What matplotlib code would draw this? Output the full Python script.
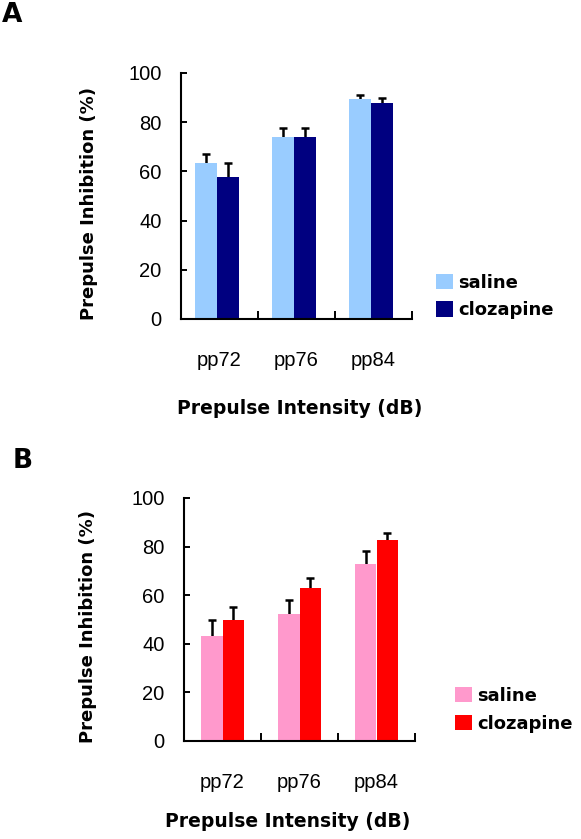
import matplotlib
matplotlib.use('Agg')
import matplotlib.pyplot as plt
import numpy as np

# values
groups = ['pp72', 'pp76', 'pp84']
series_names = ['saline', 'clozapine']

a_saline = [63.6, 73.8, 89.5]
a_saline_err = [3.5, 3.7, 1.5]
a_cloz = [57.6, 73.8, 88.0]
a_cloz_err = [5.8, 3.7, 2.0]

b_saline = [43.1, 52.2, 72.7]
b_saline_err = [6.6, 6.0, 5.3]
b_cloz = [50.0, 62.8, 82.6]
b_cloz_err = [5.0, 4.4, 2.9]

y_ticks = [0, 20, 40, 60, 80, 100]

W, H = 581, 839
fig = plt.figure(figsize=(W / 100, H / 100), dpi=100)

tick_font = {'family': 'Liberation Sans', 'size': 14.5}
heavy = {'family': 'DejaVu Sans', 'weight': 'bold'}


def px_axes(l, r, t, b):
    return fig.add_axes([l / W, 1 - b / H, (r - l) / W, (b - t) / H])


def panel(ax, sal, sal_err, clo, clo_err, colors, shift, ylab_x, xlab_xy):
    x = np.arange(len(groups)) + 0.5 + shift
    w = 0.285
    bars = []
    for vals, errs, off, col, name in [(sal, sal_err, -w / 2, colors[0], series_names[0]),
                                       (clo, clo_err, w / 2, colors[1], series_names[1])]:
        # symmetric bars drawn under the bar, so only the upper half shows
        ax.errorbar(x + off, vals, yerr=errs, fmt='none',
                    ecolor='black', elinewidth=1.8, capsize=3, capthick=1.8, zorder=1)
        b = ax.bar(x + off, vals, w, color=col, edgecolor='none', label=name, zorder=2)
        bars.append(b)
    ax.set_xlim(0, len(groups))
    ax.set_ylim(0, 100)
    ax.set_yticks(y_ticks)
    ax.set_yticklabels([str(v) for v in y_ticks], fontdict=tick_font)
    ax.set_xticks([1, 2, 3])
    ax.set_xticklabels([])
    ax.set_xticks(np.arange(len(groups)) + 0.5, minor=True)
    ax.set_xticklabels(groups, minor=True, fontdict=tick_font)
    ax.tick_params(axis='x', which='major', direction='in', length=6, width=1.4)
    ax.tick_params(axis='x', which='minor', length=0, pad=23)
    ax.tick_params(axis='y', direction='in', length=4, width=1.4, pad=14)
    for s in ['top', 'right']:
        ax.spines[s].set_visible(False)
    for s in ['left', 'bottom']:
        ax.spines[s].set_linewidth(1.5)
    ax.set_ylabel('Prepulse Inhibition (%)', fontsize=13, **heavy)
    ax.yaxis.set_label_coords(ylab_x, 0.47)
    ax.set_xlabel('Prepulse Intensity (dB)', fontsize=13.5, **heavy)
    ax.xaxis.set_label_coords(*xlab_xy)
    ax.xaxis.label.set_va('center')
    return bars


ax_a = px_axes(181, 412, 73, 319)
bars_a = panel(ax_a, a_saline, a_saline_err, a_cloz, a_cloz_err,
               ['#99CCFF', '#000080'], -0.03, -0.36, (0.515, -0.362))
ax_b = px_axes(184, 415, 498, 741)
bars_b = panel(ax_b, b_saline, b_saline_err, b_cloz, b_cloz_err,
               ['#FF99CC', '#FF0000'], 0.0, -0.375, (0.45, -0.33))

for bars, (lx, ly) in [(bars_a, (436, 296.5)), (bars_b, (455, 709.8))]:
    fig.legend(bars, series_names, loc='center left',
               bbox_to_anchor=(lx / W, 1 - ly / H), frameon=False,
               borderpad=0, borderaxespad=0, handlelength=0.95, handleheight=0.95,
               handletextpad=0.3, labelspacing=0.55,
               prop={'family': 'DejaVu Sans', 'weight': 'bold', 'size': 13})

fig.text(2 / W, 1 - 15 / H, 'A', fontsize=19, va='center', ha='left', **heavy)
fig.text(13 / W, 1 - 461 / H, 'B', fontsize=19, va='center', ha='left', **heavy)

fig.savefig('out.png', dpi=100)
